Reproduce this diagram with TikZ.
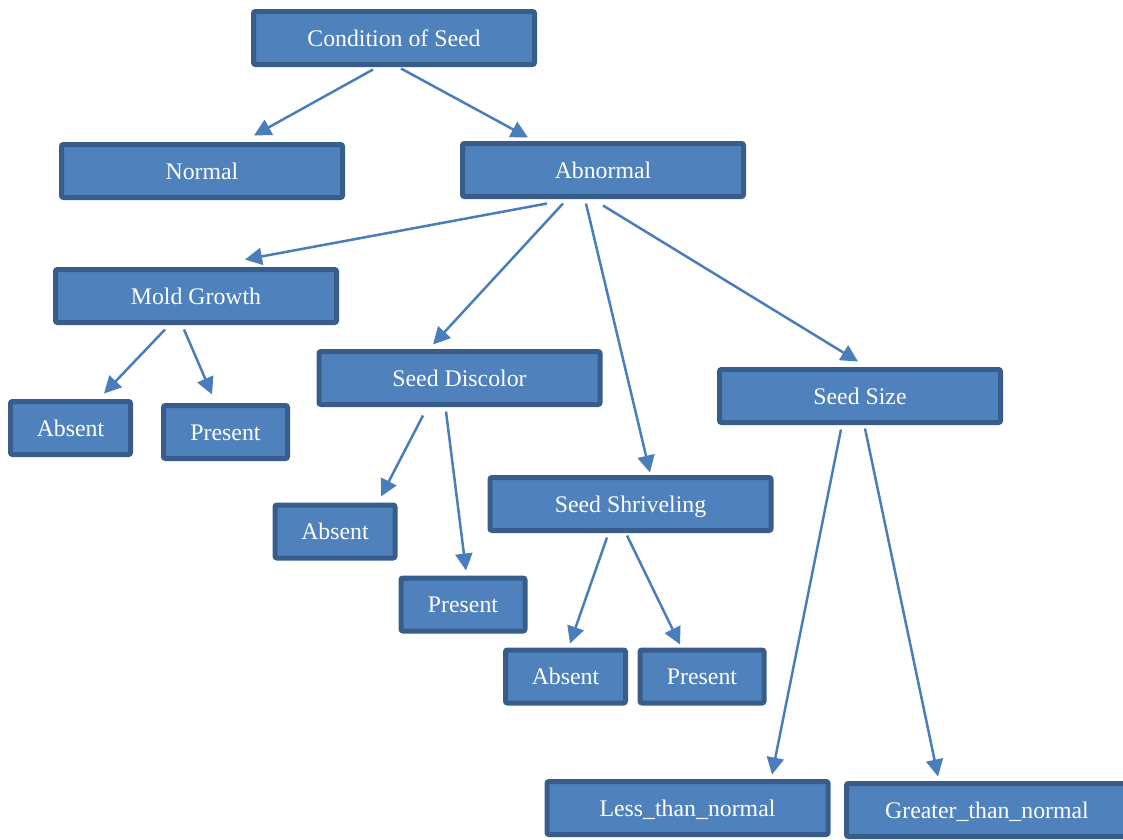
\documentclass[tikz,border=0pt]{standalone}
\usepackage{fontspec}
\setmainfont{Liberation Serif}
\usetikzlibrary{arrows.meta,calc}
\definecolor{boxfill}{HTML}{4F81BD}
\definecolor{boxline}{HTML}{385D8A}
\definecolor{arrowcol}{HTML}{4A7EBB}
\tikzset{
  bigbox/.style={draw=boxline, fill=boxfill, line width=5pt, rounded corners=2pt,
    minimum width=281pt, minimum height=53pt, inner sep=0pt,
    text=white, font=\fontsize{23.8}{28}\selectfont, text height=16pt, text depth=0pt},
  smallbox/.style={bigbox, minimum width=120pt},
  smallboxw/.style={bigbox, minimum width=124pt},
  conn/.style={draw=arrowcol, line width=2.5pt,
    -{Triangle[length=17pt,width=17pt]}}
}
\begin{document}
\begin{tikzpicture}[x=1pt,y=-1pt]
\useasboundingbox (0,0) rectangle (1123,839);
\clip (0,0) rectangle (1123,839);

\node[bigbox] (cond) at (394,38) {Condition of Seed};
\node[bigbox] (normal) at (202,171) {Normal};
\node[bigbox] (abn) at (603,170) {Abnormal};
\node[bigbox] (mold) at (196,296) {Mold Growth};
\node[smallbox] (abs1) at (70.5,428) {Absent};
\node[smallboxw] (pre1) at (225.5,432) {Present};
\node[bigbox] (disc) at (459.5,378) {Seed Discolor};
\node[bigbox] (size) at (860,396) {Seed Size};
\node[smallbox] (abs2) at (335,531.5) {Absent};
\node[bigbox] (shriv) at (630.5,504) {Seed Shriveling};
\node[smallboxw] (pre2) at (463,604.5) {Present};
\node[smallbox] (abs3) at (565.5,676.5) {Absent};
\node[smallboxw] (pre3) at (702,676.5) {Present};
\node[bigbox] (less) at (687.5,808) {Less\_than\_normal};
\node[bigbox] (greater) at (987,810) {Greater\_than\_normal};

\draw[conn] ($(cond.south)+(-21,2.5)$) -- ($(normal.north)+(52,-6.5)$);
\draw[conn] ($(cond.south)+(7,1.5)$) -- ($(abn.north)+(-75,-3.5)$);
\draw[conn] ($(abn.south)+(-56,4.5)$) -- ($(mold.north)+(49,-7.5)$);
\draw[conn] ($(abn.south)+(-40,4.5)$) -- ($(disc.north)+(-26.5,-4.5)$);
\draw[conn] ($(abn.south)+(-17,4.5)$) -- ($(shriv.north)+(19.5,-2.5)$);
\draw[conn] ($(abn.south)+(0,6.5)$) -- ($(size.north)+(-2,-5.5)$);
\draw[conn] ($(mold.south)+(-31,4.5)$) -- ($(abs1.north)+(33.5,-5.5)$);
\draw[conn] ($(mold.south)+(-12,4.5)$) -- ($(pre1.north)+(-13.5,-8.5)$);
\draw[conn] ($(disc.south)+(-36.5,8.5)$) -- ($(abs2.north)+(46,-6)$);
\draw[conn] ($(disc.south)+(-13.5,4.5)$) -- ($(pre2.north)+(3,-5)$);
\draw[conn] ($(shriv.south)+(-23.5,4.5)$) -- ($(abs3.north)+(4.5,-4)$);
\draw[conn] ($(shriv.south)+(-3.5,2.5)$) -- ($(pre3.north)+(-22,-3)$);
\draw[conn] ($(size.south)+(-19,4.5)$) -- ($(less.north)+(84.5,-4.5)$);
\draw[conn] ($(size.south)+(5,3.5)$) -- ($(greater.north)+(-49,-4.5)$);
\end{tikzpicture}
\end{document}
